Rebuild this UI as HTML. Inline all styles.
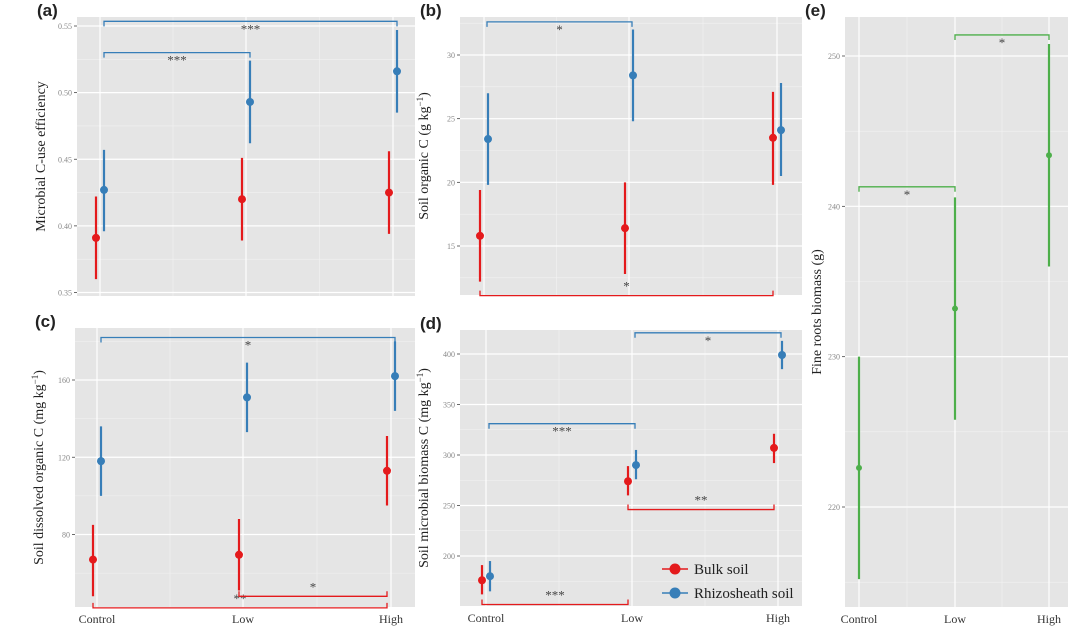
<!DOCTYPE html>
<html><head><meta charset="utf-8">
<style>
body{margin:0;background:#fff;width:1080px;height:644px;overflow:hidden}
svg{display:block}
.tick{font-family:"Liberation Serif",serif;font-size:8px;fill:#888}
.ytitle{font-family:"Liberation Serif",serif;font-size:14px;fill:#222}
.xlab{font-family:"Liberation Serif",serif;font-size:12px;fill:#333}
.plab{font-family:"Liberation Sans",sans-serif;font-size:17px;font-weight:bold;fill:#222}
.star{font-family:"Liberation Serif",serif;font-size:13px;fill:#444}
.leg{font-family:"Liberation Serif",serif;font-size:15px;fill:#222}
</style></head>
<body>
<svg id="fig" width="1080" height="644" viewBox="0 0 1080 644" xmlns="http://www.w3.org/2000/svg"></svg>
<script>
const categories=["Control","Low","High"];
// (a)
const aBulk=[0.391,0.420,0.425], aBulkLo=[0.360,0.389,0.394], aBulkHi=[0.422,0.451,0.456];
const aRhizo=[0.427,0.493,0.516], aRhizoLo=[0.396,0.462,0.485], aRhizoHi=[0.457,0.524,0.547];
const aTicks=[0.35,0.40,0.45,0.50,0.55];
// (b)
const bBulk=[15.8,16.4,23.5], bBulkLo=[12.2,12.8,19.8], bBulkHi=[19.4,20.0,27.1];
const bRhizo=[23.4,28.4,24.1], bRhizoLo=[19.8,24.8,20.5], bRhizoHi=[27.0,32.0,27.8];
const bTicks=[15,20,25,30];
// (c)
const cBulk=[67,69.5,113], cBulkLo=[48,51,95], cBulkHi=[85,88,131];
const cRhizo=[118,151,162], cRhizoLo=[100,133,144], cRhizoHi=[136,169,180];
const cTicks=[80,120,160];
// (d)
const dBulk=[176,274,307], dBulkLo=[162,260,292], dBulkHi=[191,289,321];
const dRhizo=[180,290,399], dRhizoLo=[165,276,385], dRhizoHi=[195,305,413];
const dTicks=[200,250,300,350,400];
// (e)
const eVal=[222.6,233.2,243.4], eLo=[215.2,225.8,236.0], eHi=[230.0,240.6,250.8];
const eTicks=[220,230,240,250];

const NS="http://www.w3.org/2000/svg";
const svg=document.getElementById('fig');
function mk(tag,attrs,parent){const e=document.createElementNS(NS,tag);for(const k in attrs)e.setAttribute(k,attrs[k]);(parent||svg).appendChild(e);return e;}
const RED="#e41a1c",BLUE="#377eb8",GREEN="#4daf4a";

function panel(p){
  const g=mk('g',{});
  
  
  const y=v=>p.y0+(v-p.t0)/(p.t1-p.t0)*(p.y1-p.y0);
  const x=i=>p.cx[i];
  const bg=mk('rect',{x:p.L,y:p.T,width:p.R-p.L,height:p.B-p.T,fill:'#e5e5e5'},g);
  
  
  const step=p.ticks[1]-p.ticks[0];
  for(let v=p.ticks[0]-step*1.5;v<=p.ticks[p.ticks.length-1]+step*1.5;v+=step){
    const yy=y(v); if(yy<p.T||yy>p.B)continue;
    const l=mk('line',{x1:p.L,x2:p.R,y1:yy,y2:yy,stroke:'#f2f2f2','stroke-width':0.6},g);
    
    
  }
  for(let i=0;i<2;i++){
    const xx=(x(i)+x(i+1))/2;
    const l=mk('line',{x1:xx,x2:xx,y1:p.T,y2:p.B,stroke:'#f2f2f2','stroke-width':0.6},g);
    
    
  }
  p.ticks.forEach(v=>{
    const yy=y(v);
    const l=mk('line',{x1:p.L,x2:p.R,y1:yy,y2:yy,stroke:'#fff','stroke-width':1.2},g);
    
    
    const tk=mk('line',{x1:p.L-3,x2:p.L,y1:yy,y2:yy,stroke:'#444','stroke-width':0.8},g);
    
    
    const t=mk('text',{x:p.L-5,y:yy+3,'text-anchor':'end',class:'tick'},g);
    
    
    t.textContent=p.fmt(v);
  });
  categories.forEach((c,i)=>{
    const l=mk('line',{x1:x(i),x2:x(i),y1:p.T,y2:p.B,stroke:'#fff','stroke-width':1.2},g);
    
    
    if(p.xlabels){
      const t=mk('text',{x:x(i),y:p.B+16,'text-anchor':'middle',class:'xlab'},g);
      
      
      t.textContent=c;
    }
  });
  const lab=mk('text',{x:p.L-40,y:p.T-1,class:'plab'},g);
  
  
  lab.textContent='('+p.id+')';
  const yt=mk('text',{transform:`translate(${p.L-(p.tOff||32)},${(p.T+p.B)/2}) rotate(-90)`,'text-anchor':'middle',class:'ytitle'},g);
  
  
  yt.innerHTML=p.title;
  p.brackets.forEach(b=>{
    const by=y(b.v), x1=x(b.i)+(b.dx||0), x2=x(b.j)+(b.dx||0);
    const d=b.down?`M${x1},${by-5}V${by}H${x2}V${by-5}`:`M${x1},${by+5}V${by}H${x2}V${by+5}`;
    const pa=mk('path',{d:d,fill:'none',stroke:b.c,'stroke-width':1.3},g);
    
    
    const st=mk('text',{x:(x1+x2)/2,y:by+(b.down?-5:12),'text-anchor':'middle',class:'star'},g);
    
    
    st.textContent=b.s;
  });
  p.series.forEach(s=>{
    s.v.forEach((v,i)=>{
      const xx=x(i)+s.dx;
      const l=mk('line',{x1:xx,x2:xx,y1:y(s.lo[i]),y2:y(s.hi[i]),stroke:s.c,'stroke-width':2.2},g);
      
      
      const pt=mk('circle',{cx:xx,cy:y(v),r:s.r,fill:s.c},g);
      
      
    });
  });
}

const f2=v=>v.toFixed(2), f0=v=>String(Math.round(v));
panel({id:'a',L:77,R:415,T:17,B:296,y0:292.5,y1:26,t0:0.35,t1:0.55,ticks:aTicks,fmt:f2,cx:[100,246,393],xlabels:false,
  title:'Microbial C-use efficiency',
  brackets:[{i:0,j:1,v:0.530,s:'***',c:BLUE,dx:4},{i:0,j:2,v:0.5535,s:'***',c:BLUE,dx:4}],
  series:[{name:'bulk-soil',v:aBulk,lo:aBulkLo,hi:aBulkHi,c:RED,dx:-4,r:4},{name:'rhizosheath-soil',v:aRhizo,lo:aRhizoLo,hi:aRhizoHi,c:BLUE,dx:4,r:4}]});
panel({id:'b',L:460,R:802,T:17,B:295,y0:246,y1:55,t0:15,t1:30,ticks:bTicks,fmt:f0,cx:[484,629,777],xlabels:false,
  title:'Soil organic C (g kg<tspan dy="-5" font-size="9">−1</tspan><tspan dy="5">)</tspan>',
  brackets:[{i:0,j:1,v:32.6,s:'*',c:BLUE,dx:3},{i:0,j:2,v:11.1,s:'*',c:RED,dx:-4,down:true}],
  series:[{name:'bulk-soil',v:bBulk,lo:bBulkLo,hi:bBulkHi,c:RED,dx:-4,r:4},{name:'rhizosheath-soil',v:bRhizo,lo:bRhizoLo,hi:bRhizoHi,c:BLUE,dx:4,r:4}]});
panel({id:'c',L:75,R:415,T:328,B:607,y0:534.5,y1:380,t0:80,t1:160,ticks:cTicks,fmt:f0,cx:[97,243,391],xlabels:true,
  title:'Soil dissolved organic C (mg kg<tspan dy="-5" font-size="9">−1</tspan><tspan dy="5">)</tspan>',
  brackets:[{i:0,j:2,v:182,s:'*',c:BLUE,dx:4},{i:0,j:2,v:42,s:'**',c:RED,dx:-4,down:true},{i:1,j:2,v:48,s:'*',c:RED,dx:-4,down:true}],
  series:[{name:'bulk-soil',v:cBulk,lo:cBulkLo,hi:cBulkHi,c:RED,dx:-4,r:4},{name:'rhizosheath-soil',v:cRhizo,lo:cRhizoLo,hi:cRhizoHi,c:BLUE,dx:4,r:4}]});
panel({id:'d',L:460,R:802,T:330,B:606,y0:556,y1:354,t0:200,t1:400,ticks:dTicks,fmt:f0,cx:[486,632,778],xlabels:true,
  title:'Soil microbial biomass C (mg kg<tspan dy="-5" font-size="9">−1</tspan><tspan dy="5">)</tspan>',
  brackets:[{i:0,j:1,v:331,s:'***',c:BLUE,dx:3},{i:1,j:2,v:421,s:'*',c:BLUE,dx:3},{i:1,j:2,v:246,s:'**',c:RED,dx:-4,down:true},{i:0,j:1,v:152,s:'***',c:RED,dx:-4,down:true}],
  series:[{name:'bulk-soil',v:dBulk,lo:dBulkLo,hi:dBulkHi,c:RED,dx:-4,r:4},{name:'rhizosheath-soil',v:dRhizo,lo:dRhizoLo,hi:dRhizoHi,c:BLUE,dx:4,r:4}]});
panel({id:'e',L:845,R:1068,T:17,B:607,y0:507,y1:56,t0:220,t1:250,ticks:eTicks,fmt:f0,cx:[859,955,1049],xlabels:true,tOff:24,
  title:'Fine roots biomass (g)',
  brackets:[{i:0,j:1,v:241.3,s:'*',c:GREEN,dx:0},{i:1,j:2,v:251.4,s:'*',c:GREEN,dx:0}],
  series:[{name:'fine-roots',v:eVal,lo:eLo,hi:eHi,c:GREEN,dx:0,r:3}]});

const lg=mk('g',{});


[[RED,'Bulk soil',569],[BLUE,'Rhizosheath soil',593]].forEach(([c,t,yy])=>{
  const l=mk('line',{x1:662,x2:688,y1:yy,y2:yy,stroke:c,'stroke-width':1.5},lg);
  
  
  const ci=mk('circle',{cx:675,cy:yy,r:5.5,fill:c},lg);
  
  
  const tx=mk('text',{x:694,y:yy+5,class:'leg'},lg);
  
  
  tx.textContent=t;
});
</script>
</body></html>
